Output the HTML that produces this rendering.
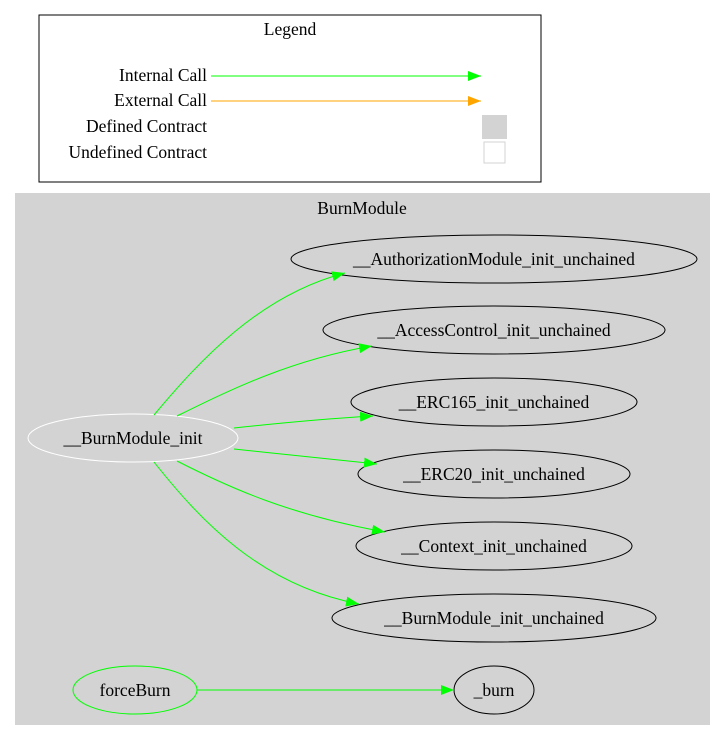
<!DOCTYPE html>
<html><head><style>
html,body{margin:0;padding:0;background:#fff;}
svg{display:block;font-family:"Liberation Serif",serif;}
</style></head><body>
<svg width="725" height="741" viewBox="0 0 725 741" xmlns="http://www.w3.org/2000/svg">
<defs>
<marker id="g" markerUnits="userSpaceOnUse" markerWidth="14" markerHeight="11" refX="13" refY="5" orient="auto"><path d="M0,0 L13,5 L0,10 Z" fill="#00ff00"/></marker>
<marker id="o" markerUnits="userSpaceOnUse" markerWidth="14" markerHeight="11" refX="13" refY="5" orient="auto"><path d="M0,0 L13,5 L0,10 Z" fill="#ffa500"/></marker>
</defs>
<rect x="0" y="0" width="725" height="741" fill="#fff"/>
<rect x="39" y="15" width="502" height="167" fill="#fff" stroke="#000"/>
<text x="290" y="35" font-size="17.5" text-anchor="middle">Legend</text>
<g font-size="17.5" text-anchor="end">
<text x="207" y="81">Internal Call</text>
<text x="207" y="106">External Call</text>
<text x="207" y="132">Defined Contract</text>
<text x="207" y="158">Undefined Contract</text>
</g>
<line x1="211" y1="76" x2="481" y2="76" stroke="#00ff00" marker-end="url(#g)"/>
<line x1="211" y1="101" x2="481" y2="101" stroke="#ffa500" marker-end="url(#o)"/>
<rect x="482" y="115" width="25" height="24" fill="#d3d3d3"/>
<rect x="484" y="142" width="21" height="21" fill="#fff" stroke="#d3d3d3"/>

<rect x="15" y="193" width="695" height="532" fill="#d3d3d3"/>
<text x="362" y="214" font-size="17.5" text-anchor="middle">BurnModule</text>

<g fill="none" stroke="#000">
<ellipse cx="494" cy="259" rx="203" ry="24"/>
<ellipse cx="494" cy="330" rx="171" ry="24"/>
<ellipse cx="494" cy="402" rx="143" ry="24"/>
<ellipse cx="494" cy="474" rx="136" ry="24"/>
<ellipse cx="494" cy="546" rx="138" ry="24"/>
<ellipse cx="494" cy="618" rx="162" ry="24"/>
<ellipse cx="494" cy="690" rx="40" ry="24"/>
<ellipse cx="133" cy="438" rx="105" ry="24" stroke="#fff"/>
<ellipse cx="135" cy="690" rx="62" ry="24" stroke="#00ff00"/>
</g>
<g font-size="17.5" text-anchor="middle">
<text x="494" y="265">__AuthorizationModule_init_unchained</text>
<text x="494" y="336">__AccessControl_init_unchained</text>
<text x="494" y="408">__ERC165_init_unchained</text>
<text x="494" y="480">__ERC20_init_unchained</text>
<text x="494" y="552">__Context_init_unchained</text>
<text x="494" y="624">__BurnModule_init_unchained</text>
<text x="494" y="696">_burn</text>
<text x="133" y="444">__BurnModule_init</text>
<text x="135" y="696">forceBurn</text>
</g>
<g fill="none" stroke="#00ff00">
<path d="M154,415 C200,360 260,295 345,273" marker-end="url(#g)"/>
<path d="M177,416 C230,390 290,360 372,346" marker-end="url(#g)"/>
<path d="M234,428 C280,423 320,419 373,416" marker-end="url(#g)"/>
<path d="M234,449 C280,454 320,458 377,464" marker-end="url(#g)"/>
<path d="M177,461 C230,488 290,515 385,532" marker-end="url(#g)"/>
<path d="M154,462 C200,520 260,585 359,604" marker-end="url(#g)"/>
<path d="M197,690 L454,690" marker-end="url(#g)"/>
</g>
</svg>
</body></html>
